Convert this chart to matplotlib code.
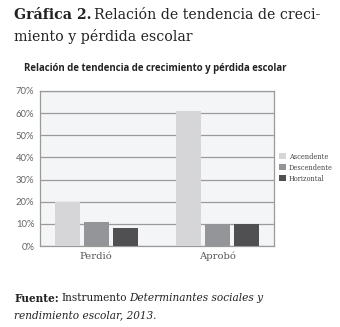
import numpy as np
import matplotlib.pyplot as plt

categorias = ['Perdió', 'Aprobó']
series = ['Ascendente', 'Descendente', 'Horizontal']
ascendente = [20, 61]
descendente = [11, 10]
horizontal = [8, 10]
colores = ['#d6d6d8', '#939598', '#505052']

fig = plt.figure(figsize=(3.4, 3.27), dpi=100)
ax = fig.add_axes([40 / 340, 1 - 246 / 327, 234 / 340, 155 / 327])
ax.set_facecolor('#f4f5f7')

x = np.arange(len(categorias))
ancho = 0.205
paso = 0.238
for i, (nombre, vals) in enumerate(zip(series, [ascendente, descendente, horizontal])):
    ax.bar(x + (i - 1) * paso, vals, ancho, color=colores[i], label=nombre, zorder=3)

ax.set_ylim(0, 70)
ax.set_xlim(-0.46, 1.46)
ax.set_yticks(range(0, 71, 10))
ax.set_yticklabels([f'{v}%' for v in range(0, 71, 10)],
                   fontsize=6.8, color='#666666', family='Lato')
ax.set_xticks(x)
ax.set_xticklabels(categorias, fontsize=7.2, color='#555555', family='DejaVu Serif')
ax.tick_params(length=0, pad=4)
ax.yaxis.grid(True, color='#9a9a9a', linewidth=0.9, zorder=0)
for s in ax.spines.values():
    s.set_color('#9a9a9a')
    s.set_linewidth(0.9)

ax.legend(loc='upper left', bbox_to_anchor=(1.01, 0.62), frameon=False,
          prop={'family': 'DejaVu Serif', 'size': 4.8},
          handlelength=1.0, handleheight=1.0, handletextpad=0.5,
          labelspacing=0.45, borderaxespad=0, labelcolor='#444444')

renderer = fig.canvas.get_renderer()


def linea(x0, y, trozos, size):
    # place text pieces one after another on the same line
    xpix = x0
    for texto, kw in trozos:
        t = fig.text(xpix / 340, 1 - y / 327, texto, fontsize=size, family='DejaVu Serif',
                     va='center', color='#222222', **kw)
        xpix = t.get_window_extent(renderer).x1 + 2.5


linea(14, 15, [('Gráfica 2.', {'fontweight': 'bold'}),
               ('Relación de tendencia de creci-', {})], 10.2)
linea(14, 36, [('miento y pérdida escolar', {})], 10.2)

fig.text(155 / 340, 1 - 69 / 327, 'Relación de tendencia de crecimiento y pérdida escolar',
         fontsize=6.9, fontweight='bold', family='Open Sans', ha='center', va='center',
         color='#222222')

linea(14, 298, [('Fuente:', {'fontweight': 'bold'}),
                ('Instrumento', {}),
                ('Determinantes sociales y', {'style': 'italic'})], 7.6)
linea(14, 315, [('rendimiento escolar, 2013.', {'style': 'italic'})], 7.6)

fig.savefig('out.png', dpi=100)
